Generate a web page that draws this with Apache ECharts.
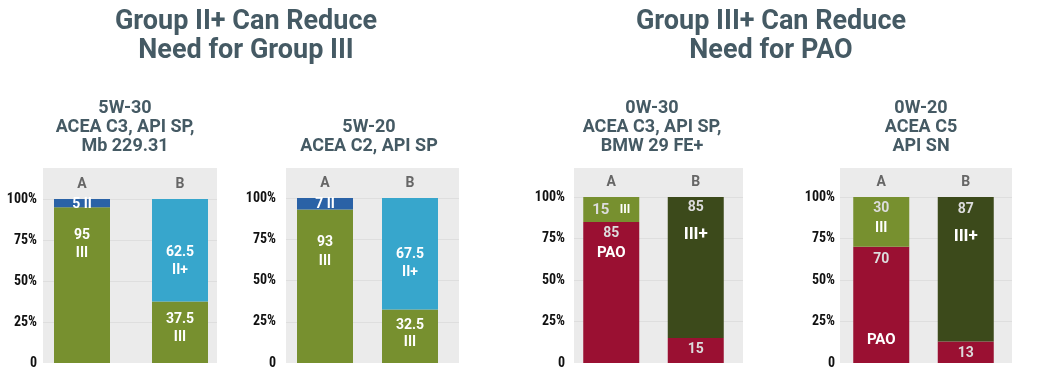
<!DOCTYPE html>
<html><head><meta charset="utf-8">
<script src="https://cdn.jsdelivr.net/npm/echarts@6/dist/echarts.min.js"></script>
<style>html,body{margin:0;padding:0;background:#fff}#c{width:1047px;height:391px}</style>
</head><body><div id="c"></div>
<script>
// ---- data ----
const mainTitles = ['Group II+ Can Reduce\nNeed for Group III', 'Group III+ Can Reduce\nNeed for PAO'];
const panelTitles = ['5W-30\nACEA C3, API SP,\nMb 229.31', '5W-20\nACEA C2, API SP', '0W-30\nACEA C3, API SP,\nBMW 29 FE+', '0W-20\nACEA C5\nAPI SN'];
const categories = ['A', 'B'];
const yTickLabels = ['0', '25%', '50%', '75%', '100%'];
const bottomValues = [[95, 37.5], [93, 32.5], [85, 15], [70, 13]];
const bottomGrades = [['III', 'III'], ['III', 'III'], ['PAO', 'PAO'], ['PAO', 'PAO']];
const topValues = [[5, 62.5], [7, 67.5], [15, 85], [30, 87]];
const topGrades = [['II', 'II+'], ['II', 'II+'], ['III', 'III+'], ['III', 'III+']];

// ---- styles / layout ----
const gradeColor = { 'III': '#77902f', 'II': '#2a62a6', 'II+': '#37a6cc', 'PAO': '#9a1032', 'III+': '#3c4a1b' };
const gradeSize = { 'III+': 17, 'PAO': 15 };
const valueColor = ['#ffffff', '#ffffff', '#dcdcdc', '#dcdcdc'];
const titleColor = '#455a64';
const condensed = "'Roboto Condensed','Liberation Sans Narrow','DejaVu Sans Condensed',sans-serif";
const bgTop = 168, bottomY = 363;
const layout = [
  { bg: [43, 217], data: [33, 229], top: 199, yMargin: -4, title: 125 },
  { bg: [286, 459], data: [282.5, 452.5], top: 198, yMargin: 6.5, title: 369 },
  { bg: [574, 743], data: [569, 738], top: 197, yMargin: 4, title: 652 },
  { bg: [840, 1012], data: [839, 1008], top: 197, yMargin: 4, title: 921 }
];
const labelCfg = [
  { bottom: [{ dy: -41, lh: 18 }, { dy: -4, lh: 18 }], top: [{ dy: 1, inline: true, sep: ' ' }, { dy: 11, lh: 18 }] },
  { bottom: [{ dy: -34, lh: 19 }, { dy: -2, lh: 17 }], top: [{ dy: 1, inline: true, sep: ' ' }, { dy: 10, lh: 18 }] },
  { bottom: [{ dy: -49, lh: 20 }, { dy: -1.5, valueOnly: true }], top: [{ dy: 1, inline: true, sep: '   ', small: true }, { dy: -46.6, lh: 27 }] },
  { bottom: [{ dy: -5, lh: 81 }, { dy: 1.5, valueOnly: true }], top: [{ dy: -3, lh: 20 }, { dy: -46, lh: 28 }] }
];

function makeLabel(p, val, grade, cfg) {
  const lh = cfg.lh || 18;
  const rich = {
    v: { color: valueColor[p], fontSize: cfg.small ? 15 : 14, fontWeight: 'bold', fontFamily: 'Roboto', lineHeight: lh },
    g: { color: '#ffffff', fontSize: cfg.small ? 12 : (gradeSize[grade] || 14), fontWeight: 'bold', fontFamily: 'Roboto', lineHeight: lh }
  };
  let fmt;
  if (cfg.valueOnly) fmt = '{v|' + val + '}';
  else if (cfg.inline) fmt = '{v|' + val + '}' + cfg.sep + '{g|' + grade + '}';
  else fmt = '{v|' + val + '}\n{g|' + grade + '}';
  return { show: true, position: 'inside', offset: [0, cfg.dy], formatter: fmt, rich: rich,
           color: '#fff', fontWeight: 'bold', fontSize: 14, fontFamily: 'Roboto' };
}

const grids = [], xAxes = [], yAxes = [], series = [];
const titles = [
  { text: mainTitles[0], left: 246, top: 8, textAlign: 'center', padding: 0,
    textStyle: { fontSize: 27, fontWeight: 'bold', color: titleColor, lineHeight: 28.5, fontFamily: 'Roboto' } },
  { text: mainTitles[1], left: 771, top: 8, textAlign: 'center', padding: 0,
    textStyle: { fontSize: 27, fontWeight: 'bold', color: titleColor, lineHeight: 28.5, fontFamily: 'Roboto' } }
];

layout.forEach((L, p) => {
  const nLines = panelTitles[p].split('\n').length;
  titles.push({ text: panelTitles[p], left: L.title, top: 146.3 - 19 * (nLines - 1) - 9.5, textAlign: 'center', padding: 0,
    textStyle: { fontSize: 18, fontWeight: 'bold', color: titleColor, lineHeight: 19, fontFamily: 'Roboto' } });
  const dataH = bottomY - L.top;
  // background grid
  grids.push({ left: L.bg[0], top: bgTop, width: L.bg[1] - L.bg[0], height: bottomY - bgTop,
    show: true, backgroundColor: '#ebebeb', borderWidth: 0 });
  xAxes.push({ gridIndex: 2 * p, type: 'category', data: categories, show: false });
  yAxes.push({ gridIndex: 2 * p, type: 'value', min: 0, max: 100 * (bottomY - bgTop) / dataH, interval: 25,
    axisLabel: { show: false }, axisLine: { show: false }, axisTick: { show: false },
    splitLine: { show: true, showMinLine: false, showMaxLine: false, lineStyle: { color: '#dedede', width: 1 } } });
  // data grid
  grids.push({ left: L.data[0], top: L.top, width: L.data[1] - L.data[0], height: dataH, show: false });
  xAxes.push({ gridIndex: 2 * p + 1, type: 'category', data: categories, position: 'top',
    axisLine: { show: false }, axisTick: { show: false },
    axisLabel: { margin: 8, color: '#666666', fontWeight: 'bold', fontSize: 14, fontFamily: 'Roboto' } });
  yAxes.push({ gridIndex: 2 * p + 1, type: 'value', min: 0, max: 100, interval: 25,
    splitLine: { show: false }, axisLine: { show: false }, axisTick: { show: false },
    axisLabel: { margin: L.yMargin, color: '#111111', fontWeight: 'bold', fontSize: 14, fontFamily: condensed,
      formatter: v => yTickLabels[Math.round(v / 25)] } });
  series.push({
    type: 'bar', stack: 'p' + p, xAxisIndex: 2 * p + 1, yAxisIndex: 2 * p + 1, barWidth: 56,
    data: bottomValues[p].map((v, i) => ({ value: v, itemStyle: { color: gradeColor[bottomGrades[p][i]] },
      label: makeLabel(p, v, bottomGrades[p][i], labelCfg[p].bottom[i]) }))
  });
  series.push({
    type: 'bar', stack: 'p' + p, xAxisIndex: 2 * p + 1, yAxisIndex: 2 * p + 1, barWidth: 56,
    data: topValues[p].map((v, i) => ({ value: v, itemStyle: { color: gradeColor[topGrades[p][i]] },
      label: makeLabel(p, v, topGrades[p][i], labelCfg[p].top[i]) }))
  });
});

const chart = echarts.init(document.getElementById('c'), null, { renderer: 'canvas' });
chart.setOption({
  animation: false,
  backgroundColor: '#ffffff',
  title: titles,
  grid: grids,
  xAxis: xAxes,
  yAxis: yAxes,
  series: series
});
</script>
</body></html>
